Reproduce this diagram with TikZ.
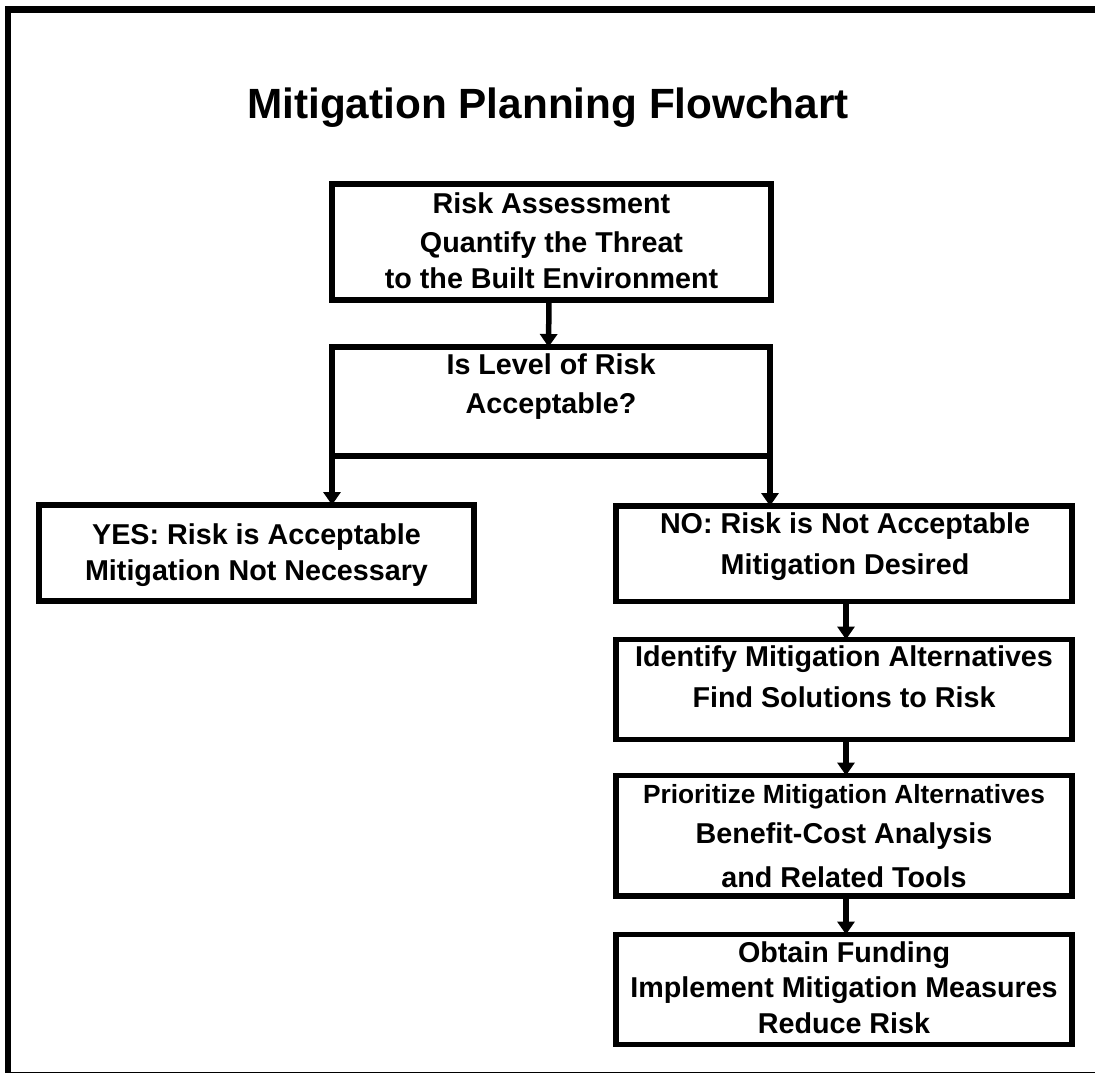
\documentclass[tikz,border=0pt]{standalone}
\usepackage{fontspec}
\setmainfont{Liberation Sans}
\usetikzlibrary{arrows.meta}
\begin{document}
\begin{tikzpicture}[x=1pt,y=-1pt,
  box/.style={draw=black, line width=5.5pt, rectangle, outer sep=0pt, inner sep=0pt},
  arr/.style={draw=black, line width=5.5pt, -{Triangle[length=13pt,width=17pt]}},
  txt/.style={anchor=base, inner sep=0pt, font=\bfseries\fontsize{28.7}{34}\selectfont},
  txts/.style={anchor=base, inner sep=0pt, font=\bfseries\fontsize{26.3}{32}\selectfont},
  ttl/.style={anchor=base, inner sep=0pt, font=\bfseries\fontsize{42.3}{50}\selectfont}]
\useasboundingbox (0,0) rectangle (1095,1074);
% frame
\draw[line width=6.5pt] (5,9.5) -- (1095,9.5);
\draw[line width=6.5pt] (8,6.5) -- (8,1072.5);
\draw[line width=1.5pt] (5,1072.5) -- (1095,1072.5);
% title
\node[ttl] (title) at (548,118) {Mitigation Planning Flowchart};
% boxes
\node[box, minimum width=439pt, minimum height=116pt] (b1) at (551.5,242) {};
\node[box, minimum width=438pt, minimum height=109pt] (b2) at (551,401.5) {};
\node[box, minimum width=435pt, minimum height=96pt] (yes) at (256.5,553) {};
\node[box, minimum width=456pt, minimum height=95.5pt] (no) at (844,553.75) {};
\node[box, minimum width=456pt, minimum height=100pt] (ident) at (844,689.5) {};
\node[box, minimum width=456pt, minimum height=120.5pt] (prio) at (844,835.75) {};
\node[box, minimum width=456pt, minimum height=110pt] (fund) at (844,989.5) {};
% texts
\node[txt] (t1a) at (551.5,213) {Risk Assessment};
\node[txt] (t1b) at (551.5,252) {Quantify the Threat};
\node[txt] (t1c) at (551.5,288) {to the Built Environment};
\node[txt] (t2a) at (551,374) {Is Level of Risk};
\node[txt] (t2b) at (551,413) {Acceptable?};
\node[txt] (t3a) at (256.5,544) {YES: Risk is Acceptable};
\node[txt] (t3b) at (256.5,580) {Mitigation Not Necessary};
\node[txt] (t4a) at (845,533) {NO: Risk is Not Acceptable};
\node[txt] (t4b) at (845,574) {Mitigation Desired};
\node[txt] (t5a) at (844,666) {Identify Mitigation Alternatives};
\node[txt] (t5b) at (844,707) {Find Solutions to Risk};
\node[txts] (t6a) at (844,803) {Prioritize Mitigation Alternatives};
\node[txt] (t6b) at (844,843) {Benefit-Cost Analysis};
\node[txt] (t6c) at (844,887) {and Related Tools};
\node[txt] (t7a) at (844,962) {Obtain Funding};
\node[txt] (t7b) at (844,997) {Implement Mitigation Measures};
\node[txt] (t7c) at (844,1033) {Reduce Risk};
% connectors
\draw[arr] ([xshift=-2.5pt]b1.south) -- ([xshift=-2.5pt]b2.north);
\draw[arr] (b2.south west) -- (b2.south west |- yes.north);
\draw[arr] (b2.south east) -- (b2.south east |- no.north);
\draw[arr] ([xshift=2pt]no.south) -- ([xshift=2pt]ident.north);
\draw[arr] ([xshift=2pt]ident.south) -- ([xshift=2pt]prio.north);
\draw[arr] ([xshift=2pt]prio.south) -- ([xshift=2pt]fund.north);
\end{tikzpicture}
\end{document}
